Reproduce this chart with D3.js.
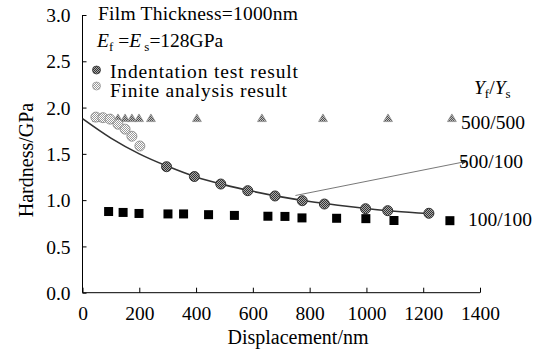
<!DOCTYPE html>
<html><head><meta charset="utf-8">
<script src="https://cdn.jsdelivr.net/npm/d3@7"></script>
<style>body{margin:0;background:#fff}svg text{font-family:"Times New Roman",Times,"Liberation Serif",Tinos,"DejaVu Serif","Noto Serif",serif !important}</style>
</head><body><svg id="c" width="544" height="356"></svg>
<script>
const xTicks=[0,200,400,600,800,1000,1200,1400];
const yTicks=[0,0.5,1,1.5,2,2.5,3];
// Indentation test result (500/100)
const testX=[296,394,487,582,678,774,852,997,1075,1220];
const testY=[1.361,1.255,1.174,1.102,1.045,0.994,0.958,0.907,0.886,0.858];
// fitted curve through indentation results
const fitX=[0,100,200,300,400,500,600,700,800,900,1000,1100,1220];
const fitY=[1.88,1.67,1.50,1.365,1.25,1.165,1.095,1.035,0.985,0.945,0.91,0.88,0.855];
// Finite analysis result (500/100)
const femX=[47,72,97,125,150,174,202];
const femY=[1.897,1.891,1.875,1.82,1.767,1.69,1.585];
// 500/500
const triX=[51,75,100,125,150,174,199,241,403,632,847,1076,1301];
const triY=[1.876,1.876,1.876,1.876,1.876,1.876,1.876,1.876,1.876,1.876,1.876,1.876,1.876];
// 100/100
const sqX=[92,143,199,301,356,444,535,653,713,773,895,998,1097,1294];
const sqY=[0.877,0.867,0.856,0.851,0.851,0.843,0.835,0.826,0.824,0.808,0.804,0.800,0.780,0.778];
const seriesLabels=["500/500","500/100","100/100"];
const legendLabels=["Indentation test result","Finite analysis result"];

const svg=d3.select("#c");
const x=d3.scaleLinear().domain([0,1400]).range([82.5,480]);
const y=d3.scaleLinear().domain([0,3]).range([292.7,15]);

const defs=svg.append("defs");
function pat(id,a,b){
  const p=defs.append("pattern").attr("id",id).attr("width",2).attr("height",2).attr("patternUnits","userSpaceOnUse");
  p.append("rect").attr("width",2).attr("height",2).attr("fill",b);
  p.append("rect").attr("width",1).attr("height",1).attr("fill",a);
  p.append("rect").attr("x",1).attr("y",1).attr("width",1).attr("height",1).attr("fill",a);
}
pat("dark","#333","#aaa");
pat("light","#999","#fff");
pat("tri","#444","#ccc");
defs.append("marker").attr("id","ah").attr("viewBox","0 0 10 10").attr("refX",10).attr("refY",5)
  .attr("markerWidth",6).attr("markerHeight",6).attr("orient","auto").attr("markerUnits","userSpaceOnUse")
  .append("path").attr("d","M0,1L10,5L0,9Z").attr("fill","#333");

// axes
const xa=svg.append("g").attr("transform","translate(0,292.7)")
  .call(d3.axisTop(x).tickValues(xTicks).tickSize(5).tickFormat(d3.format("d")));
xa.select(".domain").attr("d","M82.5,0H480");
xa.selectAll("text").attr("y",27).attr("dy",0).style("font-size","19.5px").attr("fill","#000");
const ya=svg.append("g").attr("transform","translate(82.5,0)")
  .call(d3.axisRight(y).tickValues(yTicks).tickSize(4).tickFormat(d3.format(".1f")));
ya.select(".domain").attr("d","M0,15V292.7");
ya.selectAll("text").attr("x",-12).attr("dy","0.34em").attr("text-anchor","end").style("font-size","19.5px").attr("fill","#000");
svg.selectAll(".domain,.tick line").attr("stroke","#000").attr("stroke-width",1);

// axis titles
svg.append("text").attr("x",298).attr("y",344).attr("text-anchor","middle").style("font-size","20px").text("Displacement/nm");
svg.append("text").attr("transform","translate(33,160) rotate(-90)").attr("text-anchor","middle").style("font-size","20px").text("Hardness/GPa");

// triangles 500/500
const triSym=d3.symbol().type(d3.symbolTriangle).size(34);
svg.append("g").selectAll("path").data(triX).join("path")
  .attr("transform",(d,i)=>`translate(${x(d)},${y(triY[i])})`).attr("d",triSym)
  .attr("fill","url(#tri)").attr("stroke","#888").attr("stroke-width",0.7);
// FEM circles
svg.append("g").selectAll("circle").data(femX).join("circle")
  .attr("cx",d=>x(d)).attr("cy",(d,i)=>y(femY[i])).attr("r",5)
  .attr("fill","url(#light)").attr("stroke","#888").attr("stroke-width",0.8);
// fit line
svg.append("path").datum(fitX).attr("d",d3.line().x(d=>x(d)).y((d,i)=>y(fitY[i])).curve(d3.curveMonotoneX))
  .attr("fill","none").attr("stroke","#333").attr("stroke-width",1.6);
// indentation circles
svg.append("g").selectAll("circle").data(testX).join("circle")
  .attr("cx",d=>x(d)).attr("cy",(d,i)=>y(testY[i])).attr("r",5)
  .attr("fill","url(#dark)").attr("stroke","#333").attr("stroke-width",1);
// squares
svg.append("g").selectAll("rect").data(sqX).join("rect")
  .attr("x",d=>x(d)-4.5).attr("y",(d,i)=>y(sqY[i])-4.5).attr("width",9).attr("height",9).attr("fill","#000");

// arrow
svg.append("line").attr("x1",x(750)).attr("y1",y(1.05)).attr("x2",x(1355)).attr("y2",y(1.42))
  .attr("stroke","#555").attr("stroke-width",0.8).attr("marker-end","url(#ah)");

// series labels
svg.append("text").attr("x",461).attr("y",128.5).style("font-size","19.5px").text(seriesLabels[0]);
svg.append("text").attr("x",459).attr("y",167.5).style("font-size","19.5px").text(seriesLabels[1]);
svg.append("text").attr("x",468).attr("y",226).style("font-size","19.5px").text(seriesLabels[2]);
const yt=svg.append("text").attr("x",474).attr("y",94).style("font-size","19.5px");
yt.append("tspan").style("font-style","italic").text("Y");
yt.append("tspan").attr("dy",4).style("font-size","13px").text("f");
yt.append("tspan").attr("dy",-4).text("/");
yt.append("tspan").style("font-style","italic").text("Y");
yt.append("tspan").attr("dy",4).style("font-size","13px").text("s");

// annotation texts
svg.append("text").attr("x",98).attr("y",20).style("font-size","19.5px").attr("textLength",200).text("Film Thickness=1000nm");
const et=svg.append("text").attr("x",97).attr("y",47).style("font-size","19.5px");
et.append("tspan").style("font-style","italic").text("E");
et.append("tspan").attr("dy",4).style("font-size","13px").text("f");
et.append("tspan").attr("dy",-4).text(" =");
et.append("tspan").style("font-style","italic").text("E");
et.append("tspan").attr("dy",4).style("font-size","13px").text(" s");
et.append("tspan").attr("dy",-4).text("=128GPa");

// legend
svg.append("circle").attr("cx",96.5).attr("cy",70).attr("r",4).attr("fill","url(#dark)").attr("stroke","#333").attr("stroke-width",0.8);
svg.append("circle").attr("cx",96.5).attr("cy",86).attr("r",4).attr("fill","url(#light)").attr("stroke","#999").attr("stroke-width",0.8);
svg.append("text").attr("x",110).attr("y",77.5).style("font-size","19.5px").attr("textLength",188).text(legendLabels[0]);
svg.append("text").attr("x",110).attr("y",96.5).style("font-size","19.5px").attr("textLength",177).text(legendLabels[1]);
</script></body></html>
